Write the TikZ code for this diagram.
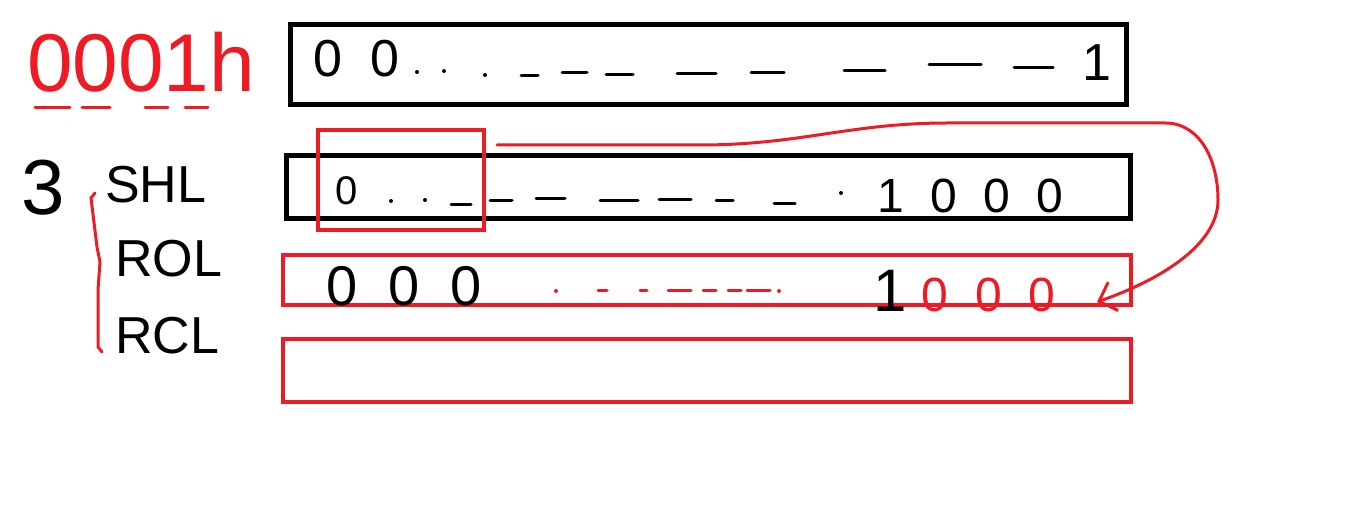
\documentclass[tikz,border=0pt]{standalone}
\usepackage{fontspec}
\setmainfont{Liberation Sans}
\usetikzlibrary{arrows.meta, positioning}
\definecolor{paintred}{RGB}{237,28,36}
\tikzset{
  reg/.style    = {rectangle, draw=black, line width=5pt, inner sep=0pt},
  regred/.style = {rectangle, draw=paintred, line width=4pt, inner sep=0pt},
  scrawl/.style = {inner sep=0pt, font=\fontsize{#1}{#1}\selectfont},
  digits/.style = {inner sep=0pt,
                   font=\fontsize{#1}{#1}\selectfont\addfontfeature{LetterSpace=55}},
  pen/.style    = {line width=3pt, line cap=round},
  carry/.style  = {draw=paintred, line width=3pt, line cap=round,
                   -{Straight Barb[length=15pt,width=30pt]}},
}

\begin{document}
\begin{tikzpicture}[x=1pt, y=-1pt]
  \useasboundingbox (0,0) rectangle (1360,529);

  % registers
  \node[reg,    minimum width=836pt, minimum height=80pt] (mem) at (708.5,64.5) {};
  \node[reg,    minimum width=844pt, minimum height=63pt] (shl) at (708.5,187) {};
  \node[regred, minimum width=848pt, minimum height=50pt] (rol) at (707,280) {};
  \node[regred, minimum width=848pt, minimum height=63pt] (rcl) at (707,370.5) {};
  \node[regred, minimum width=166pt, minimum height=100pt] (shifted) at (401,180) {};

  % ---- left column ---------------------------------------------------------
  \node[scrawl=82, text=paintred, anchor=base west] (addr) at (27,92) {0001h};
  \foreach \a/\b in {35/70, 82/110, 145/168, 185/208}
     \draw[pen, paintred] (\a,108) -- (\b,108);
  \node[scrawl=78, anchor=base west] (count) at (21,215) {3};
  \node[scrawl=52, anchor=base west] (opshl) at (105,203) {SHL};
  \node[scrawl=52, anchor=base west] (oprol) at (115,277) {ROL};
  \node[scrawl=52, anchor=base west] (oprcl) at (115,353) {RCL};
  \draw[pen, paintred] (95,193) -- (91,198) -- (97,247) -- (100,262)
                       -- (98,290) -- (98,347) -- (102,352);

  % ---- first register ------------------------------------------------------
  \node[digits=52, anchor=base west] (memhi) at (313,77) {00};
  \foreach \x/\y in {417/72, 444/71, 485/75} \fill (\x,\y) circle (2pt);
  \foreach \a/\b/\y in {521/538/76, 562/587/73, 606/633/75, 677/716/74,
                        751/784/73, 844/885/71, 929/981/65, 1014/1053/68}
     \draw[pen] (\a,\y) -- (\b,\y);
  \node[scrawl=52, anchor=base] (memlo) at (1097,81) {1};

  % ---- after SHL -----------------------------------------------------------
  \node[scrawl=40, anchor=base west] (shlhi) at (335,205) {0};
  \foreach \x/\y in {391/201, 425/200, 841/193} \fill (\x,\y) circle (2pt);
  \foreach \a/\b/\y in {451/471/205, 490/512/201, 536/565/199, 600/638/201,
                        659/691/200, 716/733/201, 774/795/204}
     \draw[pen] (\a,\y) -- (\b,\y);
  \node[digits=48, anchor=base west] (shllo) at (877,213) {1000};

  % ---- after ROL -----------------------------------------------------------
  \node[digits=56, anchor=base west] (rolhi) at (326,306) {000};
  \foreach \x in {556, 779} \fill[paintred] (\x,291) circle (2pt);
  \foreach \a/\b in {598/607, 640/647, 668/691, 703/716, 728/741, 747/770}
     \draw[pen, paintred] (\a,291) -- (\b,291);
  \node[scrawl=60, anchor=base west] (rolone) at (873,312) {1};
  \node[digits=48, text=paintred, base right=15pt of rolone] (rollo) {000};

  % ---- bits carried round --------------------------------------------------
  \coordinate (lift) at (497,145);
  \coordinate (drop) at (1097,302);
  \draw[carry] (lift) -- (700,145) .. controls (800,145) and (850,123) .. (947,123)
     -- (1165,123) .. controls (1200,123) and (1218,160) .. (1218,200)
     .. controls (1218,245) and (1160,280) .. (drop);
\end{tikzpicture}
\end{document}
